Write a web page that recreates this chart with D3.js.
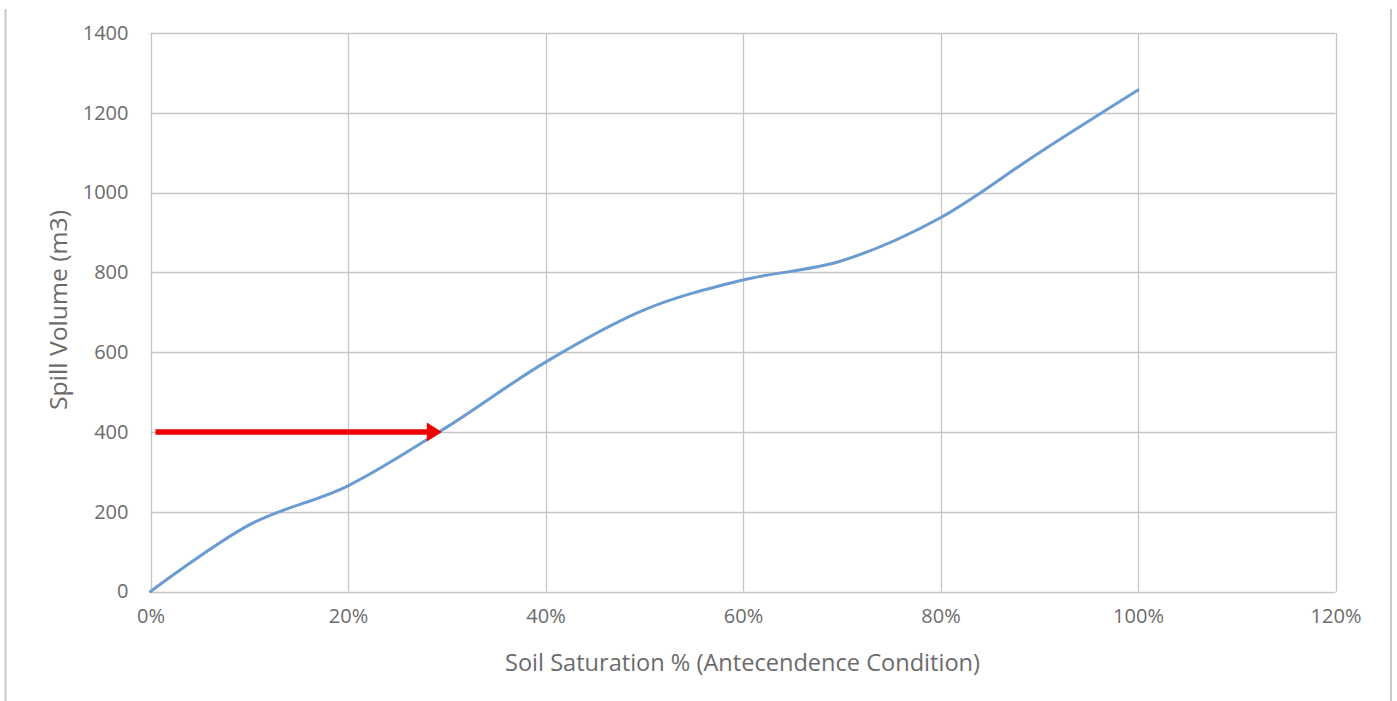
<!DOCTYPE html>
<html>
<head>
<meta charset="utf-8">
<script src="https://cdn.jsdelivr.net/npm/d3@7"></script>
<style>
  html, body { margin: 0; padding: 0; background: #ffffff; }
  svg { display: block; }
</style>
</head>
<body>
<svg id="chart" width="1397" height="701"></svg>
<script>
// ---- data ----
const saturation = [0, 0.1, 0.2, 0.3, 0.4, 0.5, 0.6, 0.7, 0.8, 0.9, 1.0];
const spillVolume = [0, 167, 265, 412, 575, 706, 781, 829, 937, 1100, 1257];
const xTicks = [0, 0.2, 0.4, 0.6, 0.8, 1.0, 1.2];
const yTicks = [0, 200, 400, 600, 800, 1000, 1200, 1400];
const arrowFrom = [0.005, 400];
const arrowTo = [0.295, 400];
const xTitle = "Soil Saturation % (Antecendence Condition)";
const yTitle = "Spill Volume (m3)";

// ---- layout ----
const W = 1397, H = 701;
const plot = { left: 150.5, right: 1335.5, top: 33, bottom: 591.5 };
const svg = d3.select("#chart");

const x = d3.scaleLinear().domain([0, 1.2]).range([plot.left, plot.right]);
const y = d3.scaleLinear().domain([0, 1400]).range([plot.bottom, plot.top]);

// outer frame lines
svg.append("line").attr("x1", 5.5).attr("x2", 5.5).attr("y1", 9).attr("y2", H)
  .attr("stroke", "#c8c8c8").attr("stroke-width", 2);
svg.append("line").attr("x1", 1391).attr("x2", 1391).attr("y1", 9).attr("y2", H)
  .attr("stroke", "#c8c8c8").attr("stroke-width", 2);

// gridlines
const grid = svg.append("g");
grid.selectAll(".hg").data(yTicks).enter().append("line")
  .attr("x1", plot.left).attr("x2", plot.right)
  .attr("y1", d => Math.round(y(d)) + 0.5).attr("y2", d => Math.round(y(d)) + 0.5)
  .attr("stroke", "#c6c6c6").attr("stroke-width", 1.3);
grid.selectAll(".vg").data(xTicks).enter().append("line")
  .attr("y1", plot.top).attr("y2", plot.bottom)
  .attr("x1", d => Math.round(x(d)) + 0.5).attr("x2", d => Math.round(x(d)) + 0.5)
  .attr("stroke", "#c6c6c6").attr("stroke-width", 1.3);

// axes (labels via d3 axes)
const fmtPct = d3.format(".0%");
const xAxis = svg.append("g").attr("transform", `translate(0,${plot.bottom})`)
  .call(d3.axisBottom(x).tickValues(xTicks).tickFormat(fmtPct).tickSize(0).tickPadding(20));
const yAxis = svg.append("g").attr("transform", `translate(${plot.left},0)`)
  .call(d3.axisLeft(y).tickValues(yTicks).tickFormat(d3.format("d")).tickSize(0).tickPadding(22));
[xAxis, yAxis].forEach(a => {
  a.select(".domain").remove();
  a.selectAll("text")
    .attr("fill", "#6b6b6b")
    .style("font-family", "'Open Sans', sans-serif")
    .style("font-size", "20px");
});
xAxis.selectAll("text").attr("dy", "0.55em");

// series line
const line = d3.line()
  .x((d, i) => x(saturation[i]))
  .y(d => y(d))
  .curve(d3.curveCatmullRom.alpha(0));
svg.append("path").datum(spillVolume)
  .attr("d", line)
  .attr("fill", "none")
  .attr("stroke", "#6a9bd1")
  .attr("stroke-width", 3)
  .attr("stroke-linecap", "round");

// red arrow
const ax1 = x(arrowFrom[0]), ax2 = x(arrowTo[0]), ay = y(arrowFrom[1]);
const headLen = 15, headHalf = 9.5;
svg.append("line")
  .attr("x1", ax1).attr("x2", ax2 - headLen + 1)
  .attr("y1", ay).attr("y2", ay)
  .attr("stroke", "#ee0000").attr("stroke-width", 5.5);
svg.append("path")
  .attr("d", `M${ax2},${ay} L${ax2 - headLen},${ay - headHalf} L${ax2 - headLen},${ay + headHalf} Z`)
  .attr("fill", "#ee0000");

// axis titles
svg.append("text")
  .attr("x", (505 + 980) / 2).attr("y", 671)
  .attr("text-anchor", "middle")
  .attr("fill", "#6b6b6b")
  .style("font-family", "'Open Sans', sans-serif")
  .style("font-size", "23px")
  .attr("textLength", 475).attr("lengthAdjust", "spacingAndGlyphs")
  .text(xTitle);
svg.append("text")
  .attr("transform", "translate(67,310) rotate(-90)")
  .attr("text-anchor", "middle")
  .attr("fill", "#6b6b6b")
  .style("font-family", "'Open Sans', sans-serif")
  .style("font-size", "23px")
  .attr("textLength", 200).attr("lengthAdjust", "spacingAndGlyphs")
  .text(yTitle);
</script>
</body>
</html>
